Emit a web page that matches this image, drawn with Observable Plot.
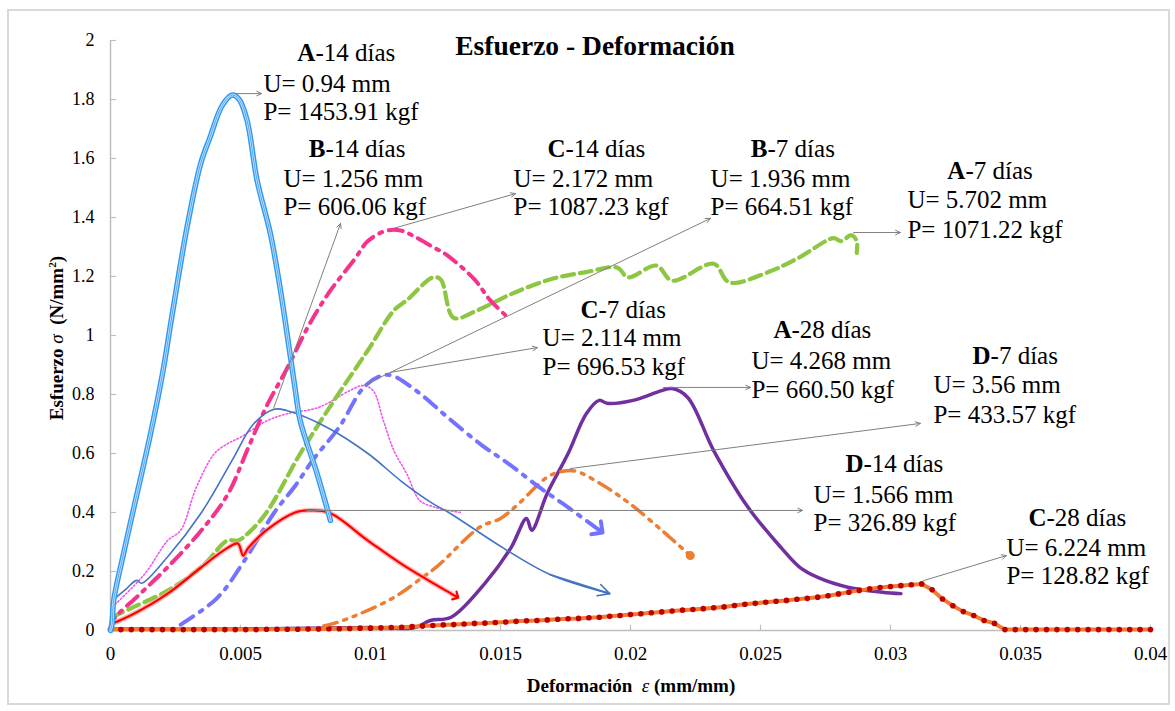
<!DOCTYPE html>
<html>
<head>
<meta charset="utf-8">
<script src="https://cdn.jsdelivr.net/npm/d3@7"></script>
<script src="https://cdn.jsdelivr.net/npm/@observablehq/plot@0.6"></script>
<style>
  body { margin: 0; background: #fff; }
  #wrap { position: relative; width: 1175px; height: 711px; font-family: "Liberation Serif", "Times New Roman", serif; color: #000; }
  #chart { position: absolute; left: 0; top: 0; }
  #chart svg, #chart svg text { font-family: "Liberation Serif", "Times New Roman", serif !important; }
  .frame { position: absolute; left: 7px; top: 9px; width: 1159px; height: 692px; border: 2px solid #d9d9d9; pointer-events: none; }
  .title { position: absolute; left: 595px; top: 32px; transform: translateX(-50%); font-size: 27.5px; line-height: 27.5px; font-weight: bold; white-space: nowrap; }
  .xlab { position: absolute; left: 631px; top: 676px; transform: translateX(-50%); font-size: 19px; line-height: 19px; font-weight: bold; white-space: nowrap; }
  .ylab { position: absolute; left: 56px; top: 338px; transform: translate(-50%, -50%) rotate(-90deg); font-size: 19px; line-height: 19px; font-weight: bold; white-space: nowrap; }
  .ylab sup { font-size: 0.6em; line-height: 0; vertical-align: 0.6em; }
  i { font-weight: normal; }
</style>
</head>
<body>
<div id="wrap">
  <div id="chart"></div>
  <div class="frame"></div>
  <div class="title">Esfuerzo - Deformación</div>
  <div class="ylab">Esfuerzo <i>σ</i>&nbsp;&nbsp;(N/mm<sup>2</sup>)</div>
  <div class="xlab">Deformación&nbsp;&nbsp;<i>ε</i> (mm/mm)</div>
</div>
<script>
// ---- axis ticks ----
const xTicks = [0, 0.005, 0.01, 0.015, 0.02, 0.025, 0.03, 0.035, 0.04];
const xTickLabels = ["0", "0.005", "0.01", "0.015", "0.02", "0.025", "0.03", "0.035", "0.04"];
const yTicks = [0, 0.2, 0.4, 0.6, 0.8, 1, 1.2, 1.4, 1.6, 1.8, 2];
const yTickLabels = ["0", "0.2", "0.4", "0.6", "0.8", "1", "1.2", "1.4", "1.6", "1.8", "2"];

// ---- series: [strain, stress] ----
const a14 = [[0,0],[0.00006,0.02],[0.00012,0.1],[0.0005,0.26],[0.0009,0.417],[0.00154,0.667],[0.002,0.87],[0.00237,1.07],[0.00295,1.37],[0.00346,1.58],[0.00382,1.67],[0.0043,1.78],[0.00468,1.815],[0.00495,1.8],[0.00525,1.73],[0.00564,1.525],[0.00615,1.345],[0.00652,1.163],[0.0068,1.0],[0.0071,0.82],[0.0073,0.71],[0.00795,0.53],[0.00846,0.373]];
const b14 = [[0,0.02],[0.00012,0.1],[0.0006,0.14],[0.001,0.17],[0.0012,0.16],[0.0022,0.25],[0.0035,0.4],[0.0047,0.58],[0.0055,0.7],[0.0063,0.75],[0.0068,0.745],[0.0083,0.69],[0.0099,0.6],[0.0112,0.505],[0.0124,0.43],[0.0131,0.395],[0.0151,0.28],[0.0169,0.19],[0.0192,0.125]];
const c14 = [[0,0],[0.00006,0.03],[0.00115,0.125],[0.0022,0.215],[0.0035,0.34],[0.0045,0.46],[0.0053,0.62],[0.006,0.76],[0.0068,0.89],[0.0076,1.03],[0.0084,1.145],[0.0094,1.26],[0.0099,1.32],[0.0106,1.355],[0.0112,1.355],[0.0117,1.335],[0.0124,1.3],[0.0129,1.275],[0.014,1.19],[0.0146,1.12],[0.0153,1.06]];
const b7 = [[0.00008,0.08],[0.0013,0.19],[0.0022,0.305],[0.0027,0.34],[0.0033,0.485],[0.004,0.6],[0.0045,0.633],[0.005,0.655],[0.006,0.71],[0.0068,0.735],[0.008,0.756],[0.0092,0.813],[0.0097,0.83],[0.0101,0.813],[0.0105,0.71],[0.0109,0.61],[0.0114,0.53],[0.0119,0.44],[0.0124,0.42],[0.0131,0.405],[0.0135,0.4]];
const c7 = [[0.0027,0.02],[0.0041,0.11],[0.0051,0.23],[0.0063,0.4],[0.0071,0.49],[0.0078,0.58],[0.0088,0.69],[0.0097,0.82],[0.0103,0.86],[0.0108,0.865],[0.0118,0.81],[0.013,0.72],[0.0143,0.627],[0.0153,0.566],[0.0165,0.485],[0.0174,0.43],[0.0188,0.34]];
const a7 = [[0.00006,0.045],[0.0009,0.08],[0.0022,0.135],[0.0035,0.215],[0.0045,0.305],[0.0049,0.305],[0.0053,0.33],[0.006,0.4],[0.0073,0.6],[0.0086,0.78],[0.0099,0.95],[0.0109,1.085],[0.0114,1.12],[0.0124,1.197],[0.0127,1.19],[0.0132,1.06],[0.0141,1.085],[0.0154,1.14],[0.0169,1.19],[0.0183,1.215],[0.0195,1.23],[0.0199,1.197],[0.021,1.237],[0.0216,1.186],[0.0232,1.243],[0.0238,1.18],[0.0253,1.215],[0.0265,1.265],[0.0278,1.33],[0.0281,1.32],[0.0285,1.34],[0.0287,1.32],[0.0287,1.28]];
const d7 = [[0.0082,0.015],[0.0086,0.024],[0.0096,0.057],[0.0109,0.112],[0.012,0.18],[0.0126,0.22],[0.0142,0.35],[0.015,0.38],[0.0157,0.43],[0.0168,0.52],[0.0174,0.54],[0.0179,0.54],[0.0188,0.5],[0.0199,0.435],[0.0212,0.34],[0.0223,0.254]];
const d14 = [[0.00006,0.023],[0.0009,0.057],[0.0022,0.125],[0.0035,0.215],[0.0045,0.28],[0.0049,0.295],[0.0051,0.254],[0.0053,0.28],[0.006,0.34],[0.0071,0.4],[0.0076,0.407],[0.0084,0.4],[0.0099,0.305],[0.0112,0.225],[0.0131,0.125],[0.0133,0.115]];
const a28 = [[0,0.005],[0.005,0.005],[0.01,0.01],[0.0117,0.01],[0.0123,0.034],[0.0131,0.045],[0.0144,0.16],[0.0154,0.28],[0.016,0.38],[0.0162,0.34],[0.0168,0.465],[0.0176,0.6],[0.0183,0.735],[0.0188,0.78],[0.0191,0.77],[0.0201,0.78],[0.0212,0.813],[0.0216,0.82],[0.0222,0.79],[0.0232,0.61],[0.0245,0.42],[0.0258,0.28],[0.0265,0.215],[0.0272,0.18],[0.0284,0.146],[0.0297,0.13],[0.0304,0.125]];
const c28Strain = [0,0.0004,0.0008,0.0012,0.0016,0.002,0.0024,0.0028,0.0032,0.0036,0.004,0.0044,0.0048,0.0052,0.0056,0.006,0.0064,0.0068,0.0072,0.0076,0.008,0.0084,0.0088,0.0092,0.0096,0.01,0.0104,0.0108,0.0112,0.0116,0.012,0.0124,0.0128,0.0132,0.0136,0.014,0.0144,0.0148,0.0152,0.0156,0.016,0.0164,0.0168,0.0172,0.0176,0.018,0.0184,0.0188,0.0192,0.0196,0.02,0.0204,0.0208,0.0212,0.0216,0.022,0.0224,0.0228,0.0232,0.0236,0.024,0.0244,0.0248,0.0252,0.0256,0.026,0.0264,0.0268,0.0272,0.0276,0.028,0.0284,0.0288,0.0292,0.0296,0.03,0.0304,0.0308,0.0312,0.0316,0.032,0.0324,0.0328,0.0332,0.0336,0.034,0.0344,0.0348,0.0352,0.0356,0.036,0.0364,0.0368,0.0372,0.0376,0.038,0.0384,0.0388,0.0392,0.0396,0.04];
const c28Stress = [0.003,0.003,0.003,0.003,0.003,0.003,0.003,0.003,0.003,0.003,0.003,0.003,0.003,0.003,0.003,0.004,0.004,0.004,0.004,0.005,0.005,0.006,0.006,0.007,0.008,0.008,0.009,0.01,0.011,0.013,0.015,0.017,0.019,0.02,0.022,0.024,0.025,0.027,0.029,0.031,0.033,0.034,0.036,0.038,0.04,0.041,0.043,0.045,0.048,0.051,0.054,0.057,0.06,0.063,0.066,0.069,0.071,0.074,0.077,0.08,0.085,0.089,0.092,0.096,0.099,0.102,0.106,0.109,0.113,0.118,0.124,0.13,0.136,0.141,0.146,0.149,0.152,0.155,0.158,0.138,0.107,0.084,0.064,0.051,0.034,0.024,0.003,0.003,0.003,0.003,0.003,0.003,0.003,0.003,0.003,0.003,0.003,0.003,0.003,0.003,0.003];
const c28 = c28Strain.map((x, i) => [x, c28Stress[i]]);

// ---- annotation texts ----
const labelLetters = ["A", "B", "C", "B", "A", "C", "A", "D", "D", "C"];
const labelRest = ["-14 días", "-14 días", "-14 días", "-7 días", "-7 días", "-7 días", "-28 días", "-7 días", "-14 días", "-28 días"];
const labelU = ["U= 0.94 mm", "U= 1.256 mm", "U= 2.172 mm", "U= 1.936 mm", "U= 5.702 mm", "U= 2.114 mm", "U= 4.268 mm", "U= 3.56 mm", "U= 1.566 mm", "U= 6.224 mm"];
const labelP = ["P= 1453.91 kgf", "P= 606.06 kgf", "P= 1087.23 kgf", "P= 664.51 kgf", "P= 1071.22 kgf", "P= 696.53 kgf", "P= 660.50 kgf", "P= 433.57 kgf", "P= 326.89 kgf", "P= 128.82 kgf"];

// ---- annotation layout (data units) ----
const labelSplitX = [0.00788, 0.00827, 0.0175, 0.02527, 0.03288, 0.01877, 0.02619, 0.03385, 0.02896, 0.036];
const labelLeftX  = [0.00588, 0.00665, 0.0155, 0.02308, 0.03065, 0.01662, 0.02465, 0.03165, 0.02704, 0.03446];
const labelY1 = [1.959, 1.631, 1.631, 1.631, 1.559, 1.088, 1.020, 0.932, 0.563, 0.383];
const labelY2 = [1.854, 1.529, 1.529, 1.529, 1.458, 0.990, 0.915, 0.831, 0.461, 0.281];
const labelY3 = [1.756, 1.434, 1.434, 1.434, 1.356, 0.892, 0.814, 0.729, 0.366, 0.186];
const arrowX1 = [0.00481, 0.00627, 0.01088, 0.00973, 0.02858, 0.01077, 0.02127, 0.01769, 0.00754, 0.03127];
const arrowY1 = [1.820, 0.753, 1.363, 0.831, 1.349, 0.875, 0.824, 0.549, 0.407, 0.169];
const arrowX2 = [0.00581, 0.00885, 0.01558, 0.02308, 0.03038, 0.01642, 0.02462, 0.03115, 0.02662, 0.03446];
const arrowY2 = [1.820, 1.380, 1.481, 1.397, 1.349, 0.959, 0.824, 0.702, 0.407, 0.254];

const notes = labelLetters.map((l, i) => ({
  letter: l, rest: labelRest[i], u: labelU[i], p: labelP[i],
  sx: labelSplitX[i], lx: labelLeftX[i], y1: labelY1[i], y2: labelY2[i], y3: labelY3[i],
  ax1: arrowX1[i], ay1: arrowY1[i], ax2: arrowX2[i], ay2: arrowY2[i]
}));

const FONT = "Liberation Serif";
const X = d => d[0], Y = d => d[1];
const ln = (data, opts) => Plot.line(data, {x: X, y: Y, curve: "catmull-rom", strokeLinejoin: "round", ...opts});
const lastSeg = arr => [{x1: arr[arr.length - 2][0], y1: arr[arr.length - 2][1], x2: arr[arr.length - 1][0], y2: arr[arr.length - 1][1]}];

const chart = Plot.plot({
  width: 1175,
  height: 711,
  marginLeft: 110,
  marginRight: 25,
  marginTop: 40,
  marginBottom: 81,
  x: {domain: [0, 0.04]},
  y: {domain: [0, 2]},
  style: {fontFamily: FONT, fontSize: "18px", background: "transparent", color: "#000", overflow: "visible"},
  marks: [
    // axis lines and inward ticks
    Plot.ruleY([0], {x1: 0, x2: 0.04, stroke: "#bfbfbf", strokeWidth: 1.5}),
    Plot.ruleX([0], {y1: 0, y2: 2, stroke: "#bfbfbf", strokeWidth: 1.5}),
    Plot.ruleX(xTicks, {y1: 0, y2: 0.018, stroke: "#bfbfbf", strokeWidth: 1.2}),
    Plot.ruleY(yTicks, {x1: 0, x2: 0.00024, stroke: "#bfbfbf", strokeWidth: 1.2}),
    // A-28 (purple)
    ln(a28, {stroke: "#7030a0", strokeWidth: 3.5}),
    // C-28 (orange line with dark red markers)
    Plot.line(c28, {x: X, y: Y, stroke: "#ed7d31", strokeWidth: 4}),
    Plot.dot(c28, {x: X, y: Y, r: 2.8, fill: "#c00000", stroke: "none"}),
    // D-7 (orange dash-dot-dot)
    ln(d7, {stroke: "#ed7d31", strokeWidth: 3.5, strokeDasharray: "14,7,3,7,3,7"}),
    Plot.dot([d7[d7.length - 1]], {x: X, y: Y, r: 4.5, fill: "#ed7d31", stroke: "none"}),
    // B-7 (magenta dotted)
    ln(b7, {stroke: "#ee55ee", strokeWidth: 1.6, strokeDasharray: "1.5,2.2"}),
    // C-7 (violet dash-dot, arrow end)
    ln(c7, {stroke: "#7373ff", strokeWidth: 4, strokeDasharray: "15,8,3,8", markerEnd: "arrow"}),
    // A-7 (green dashed)
    ln(a7, {stroke: "#8dc641", strokeWidth: 4.2, strokeDasharray: "12,6"}),
    // C-14 (pink dash-dot)
    ln(c14, {stroke: "#f5338c", strokeWidth: 4, strokeDasharray: "14,7,3,7"}),
    // D-14 (red with halo, arrow end)
    ln(d14, {stroke: "#ff9a9a", strokeWidth: 5, strokeOpacity: 0.7}),
    ln(d14, {stroke: "#ff0000", strokeWidth: 2.2, markerEnd: "arrow"}),
    // B-14 (blue thin, arrow end)
    ln(b14, {stroke: "#4472c4", strokeWidth: 1.6}),
    Plot.arrow(lastSeg(b14), {x1: "x1", y1: "y1", x2: "x2", y2: "y2", stroke: "#4472c4", strokeWidth: 1.6, headLength: 12, headAngle: 55}),
    // A-14 (light blue double line)
    ln(a14, {stroke: "#3399f0", strokeWidth: 5.5}),
    ln(a14, {stroke: "#c4e2ff", strokeWidth: 2.6}),
    ln(a14, {stroke: "#3399f0", strokeWidth: 0.8}),
    // leader arrows
    Plot.arrow(notes, {x1: "ax1", y1: "ay1", x2: "ax2", y2: "ay2", stroke: "#7f7f7f", strokeWidth: 1, headLength: 8, headAngle: 50}),
    // annotation texts
    Plot.text(notes, {x: "sx", y: "y1", text: "letter", textAnchor: "end", fontWeight: "bold", fontSize: 25, fontFamily: FONT, fill: "#000"}),
    Plot.text(notes, {x: "sx", y: "y1", text: "rest", textAnchor: "start", fontSize: 25, fontFamily: FONT, fill: "#000"}),
    Plot.text(notes, {x: "lx", y: "y2", text: "u", textAnchor: "start", fontSize: 25, fontFamily: FONT, fill: "#000"}),
    Plot.text(notes, {x: "lx", y: "y3", text: "p", textAnchor: "start", fontSize: 25, fontFamily: FONT, fill: "#000"}),
    // axes labels
    Plot.axisX({ticks: xTicks, tickSize: 0, tickPadding: 16, tickFormat: d => xTickLabels[xTicks.indexOf(d)], fontSize: 19, fontFamily: FONT, label: null}),
    Plot.axisY({ticks: yTicks, tickSize: 0, tickPadding: 16, tickFormat: d => yTickLabels[yTicks.indexOf(d)], fontSize: 18, fontFamily: FONT, label: null})
  ]
});
document.getElementById("chart").appendChild(chart);
</script>
</body>
</html>
